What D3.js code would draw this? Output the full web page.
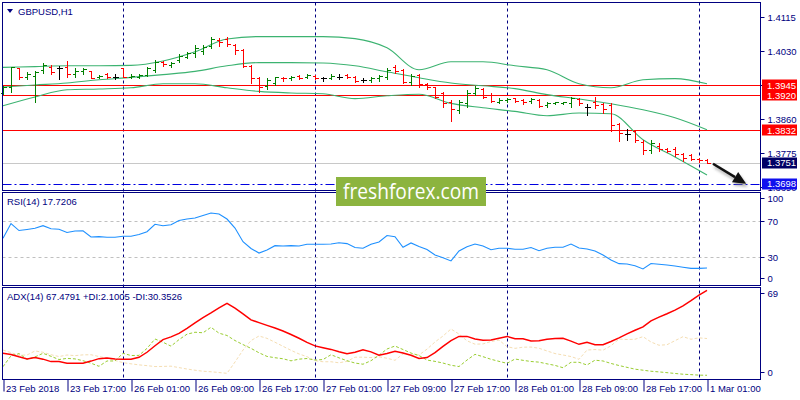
<!DOCTYPE html>
<html>
<head>
<meta charset="utf-8">
<script src="https://cdnjs.cloudflare.com/ajax/libs/d3/7.8.5/d3.min.js"></script>
<style>
  body { margin: 0; background: #fff; }
  svg { display: block; }
  text { font-family: "Liberation Sans", Arial, sans-serif; }
</style>
</head>
<body>
<svg id="chart" width="800" height="400"></svg>
<script>
// GBPUSD H1, 23 Feb 2018 09:00 .. 1 Mar 01:00 (89 bars)
const opens = [1.3925,1.3941,1.3987,1.3964,1.3968,1.3983,1.3989,1.3987,1.3989,1.3972,
  1.3980,1.3980,1.3964,1.3972,1.3966,1.3987,1.3966,1.3966,1.3970,1.3983,
  1.4003,1.3995,1.4008,1.4016,1.4024,1.4030,1.4043,1.4058,1.4060,1.4045,
  1.4033,1.3993,1.3963,1.3943,1.3949,1.3963,1.3962,1.3967,1.3964,1.3967,
  1.3962,1.3963,1.3966,1.3970,1.3966,1.3957,1.3957,1.3962,1.3966,1.3989,
  1.3983,1.3952,1.3970,1.3948,1.3939,1.3926,1.3903,1.3883,1.3899,1.3924,
  1.3934,1.3920,1.3903,1.3908,1.3912,1.3908,1.3905,1.3908,1.3895,1.3901,
  1.3900,1.3901,1.3909,1.3891,1.3903,1.3897,1.3895,1.3848,1.3823,1.3831,
  1.3803,1.3783,1.3793,1.3784,1.3784,1.3773,1.3770,1.3759,1.3758];
const highs = [1.3943,1.3991,1.3988,1.3978,1.3981,1.3999,1.3995,1.3993,1.4006,1.3987,
  1.3987,1.3981,1.3970,1.3976,1.3972,1.3988,1.3972,1.3973,1.3989,1.4008,
  1.4005,1.4003,1.4022,1.4028,1.4045,1.4045,1.4066,1.4062,1.4066,1.4047,
  1.4034,1.3995,1.3966,1.3962,1.3966,1.3966,1.3968,1.3970,1.3973,1.3970,
  1.3966,1.3973,1.3973,1.3972,1.3968,1.3962,1.3966,1.3970,1.3987,1.3995,
  1.3985,1.3973,1.3973,1.3951,1.3941,1.3928,1.3908,1.3908,1.3933,1.3943,
  1.3937,1.3924,1.3912,1.3912,1.3913,1.3910,1.3913,1.3910,1.3903,1.3903,
  1.3903,1.3916,1.3912,1.3898,1.3914,1.3899,1.3899,1.3849,1.3834,1.3833,
  1.3808,1.3808,1.3801,1.3788,1.3789,1.3774,1.3773,1.3762,1.3759];
const lows = [1.3923,1.3928,1.3960,1.3960,1.3903,1.3974,1.3972,1.3960,1.3966,1.3966,
  1.3973,1.3962,1.3962,1.3962,1.3960,1.3965,1.3962,1.3962,1.3968,1.3978,
  1.3993,1.3991,1.4003,1.4012,1.4016,1.4022,1.4038,1.4043,1.4043,1.4022,
  1.3991,1.3949,1.3928,1.3935,1.3945,1.3956,1.3957,1.3959,1.3962,1.3960,
  1.3956,1.3959,1.3960,1.3962,1.3953,1.3952,1.3953,1.3955,1.3959,1.3974,
  1.3949,1.3945,1.3941,1.3934,1.3912,1.3891,1.3856,1.3874,1.3891,1.3920,
  1.3912,1.3902,1.3901,1.3903,1.3902,1.3897,1.3901,1.3889,1.3889,1.3898,
  1.3898,1.3889,1.3895,1.3870,1.3887,1.3874,1.3831,1.3806,1.3808,1.3803,
  1.3773,1.3774,1.3781,1.3777,1.3768,1.3756,1.3758,1.3753,1.3751];
const closes = [1.3940,1.3989,1.3964,1.3972,1.3978,1.3995,1.3978,1.3987,1.3972,1.3980,
  1.3984,1.3963,1.3968,1.3966,1.3966,1.3966,1.3968,1.3970,1.3987,1.4003,
  1.3997,1.3999,1.4018,1.4024,1.4037,1.4041,1.4060,1.4052,1.4047,1.4033,
  1.3993,1.3963,1.3941,1.3958,1.3964,1.3962,1.3964,1.3963,1.3970,1.3963,
  1.3962,1.3968,1.3966,1.3966,1.3955,1.3957,1.3963,1.3967,1.3983,1.3980,
  1.3952,1.3967,1.3948,1.3939,1.3916,1.3899,1.3884,1.3903,1.3926,1.3937,
  1.3916,1.3906,1.3908,1.3910,1.3906,1.3903,1.3910,1.3893,1.3901,1.3902,
  1.3902,1.3912,1.3899,1.3891,1.3895,1.3884,1.3845,1.3824,1.3823,1.3808,
  1.3783,1.3799,1.3784,1.3781,1.3773,1.3762,1.3759,1.3758,1.3751];

// Bollinger bands read every 4th bar
const bbIndex = [0,4,8,12,16,20,24,28,32,36,40,44,48,52,56,60,64,68,72,76,80,84,88];
const bbUpper = [1.3989,1.3991,1.3993,1.3993,1.3994,1.4005,1.4028,1.4060,1.4066,1.4066,1.4066,1.4061,
  1.4038,1.3983,1.4003,1.4003,1.3993,1.3983,1.3948,1.3938,1.3958,1.3961,1.3948];
const bbMiddle = [1.3940,1.3945,1.3950,1.3958,1.3964,1.3971,1.3979,1.3993,1.4001,1.4001,1.4000,1.3993,
  1.3978,1.3963,1.3950,1.3943,1.3936,1.3921,1.3910,1.3898,1.3883,1.3863,1.3833];
const bbLower = [1.3893,1.3915,1.3933,1.3935,1.3938,1.3948,1.3948,1.3938,1.3929,1.3925,1.3923,1.3911,
  1.3918,1.3922,1.3899,1.3888,1.3879,1.3868,1.3875,1.3873,1.3808,1.3765,1.3720];

const rsi = [50.8,67.2,59.4,60.6,61.9,64.8,61.3,60.8,57.2,58.9,
  59.2,52.2,52.6,52.0,51.9,53.0,53.0,54.9,58.1,66.3,
  64.8,65.9,70.6,72.2,73.3,76.1,78.9,77.8,72.2,62.2,
  47.0,39.4,34.4,37.8,42.6,42.2,42.6,42.2,44.1,44.1,
  44.1,44.4,45.9,44.9,40.6,39.7,44.2,46.7,53.9,52.6,
  40.8,45.6,41.7,38.3,32.2,29.2,25.6,36.7,41.4,44.4,
  42.2,38.0,39.7,39.7,38.6,38.6,40.6,37.0,39.7,40.8,
  40.8,44.4,40.0,38.9,36.7,32.2,26.7,22.6,22.2,20.3,
  16.7,22.8,22.0,21.1,20.0,18.7,17.4,17.4,17.72];

const adx = [19.1,18.1,16.3,14.7,15.7,14.5,12.6,12.6,11.4,11.4,
  11.4,13.0,14.9,15.3,14.6,14.5,14.5,15.9,19.8,24.8,
  29.5,31.6,34.3,38.2,42.4,46.4,50.1,54.0,57.4,53.7,
  49.4,44.7,42.6,40.5,38.5,36.2,33.5,30.6,27.4,24.7,
  23.3,22.0,20.2,18.6,19.8,21.7,20.1,17.6,18.9,20.5,
  19.3,17.5,15.0,15.7,19.5,24.3,28.8,32.0,32.0,30.0,
  29.0,29.3,30.6,32.0,30.2,30.2,28.5,28.7,29.8,30.3,
  30.5,28.4,25.9,27.4,25.6,25.6,28.1,30.9,33.9,36.7,
  39.3,44.0,46.8,49.4,52.2,55.5,59.5,63.7,67.48];
const plusDI = [8.7,17.1,18.8,14.4,16.2,19.0,16.7,14.2,15.1,14.7,
  13.3,11.4,9.0,13.1,13.1,19.0,17.3,17.4,22.8,30.0,
  27.5,24.5,29.5,33.7,35.2,34.8,39.0,34.5,32.7,28.8,
  25.7,22.8,19.4,16.6,15.6,14.8,13.2,14.5,15.0,13.8,
  14.2,17.9,15.5,13.3,11.5,10.6,13.3,17.5,22.3,24.6,
  21.9,19.2,17.3,13.8,12.8,11.5,9.8,8.8,13.8,18.2,
  16.4,14.4,12.8,11.3,14.6,13.6,12.7,12.2,10.9,9.7,
  7.9,12.1,12.1,10.0,13.7,13.1,11.2,9.6,8.2,6.8,
  6.0,5.2,4.7,4.1,3.5,2.9,2.6,2.2,2.10];
const minusDI = [21.5,19.5,17.5,17.7,20.8,19.8,17.9,16.5,17.7,17.2,
  17.8,17.9,16.5,15.2,13.5,11.8,10.9,10.1,9.5,8.8,
  8.9,9.1,8.0,6.9,6.0,5.2,4.8,4.2,3.6,12.3,
  21.5,28.8,32.3,30.5,27.5,24.4,21.3,18.5,16.4,13.3,
  12.5,12.5,11.7,12.8,16.0,16.0,15.7,16.3,15.2,13.6,
  18.6,17.7,17.7,22.2,27.7,32.3,37.7,33.8,28.6,26.0,
  26.2,28.1,29.2,24.1,22.8,23.7,23.8,22.9,20.8,18.8,
  17.7,16.5,14.4,21.5,21.9,21.4,24.8,30.0,29.6,29.8,
  31.8,27.7,25.2,25.6,28.7,31.8,29.8,30.9,30.35];

const timeLabels = ['23 Feb 2018','23 Feb 17:00','26 Feb 01:00','26 Feb 09:00','26 Feb 17:00',
  '27 Feb 01:00','27 Feb 09:00','27 Feb 17:00','28 Feb 01:00','28 Feb 09:00','28 Feb 17:00','1 Mar 01:00'];
const timeLabelIdx = [0,8,16,24,32,40,48,56,64,72,80,88];
const dayStarts = [15,39,63,87];

const priceTicks = [1.4115,1.4030,1.3945,1.3860,1.3775,1.3690];
const resistLevels = [1.3945,1.3920,1.3832];
const bidPrice = 1.3751;
const targetPrice = 1.3698;
const rsiTicks = [100,70,30,0];
const rsiLevels = [70,30];
const adxTicks = [69,0];
const arrowFrom = [88.75,1.3748];
const arrowTo = [92.9,1.3698];

// ---------------------------------------------------------------
const NAVY = '#000080';
const svg = d3.select('#chart');

const frame = {left: 2.5, right: 760.5};
const panes = {
  main: {top: 2.5, bottom: 190.5},
  rsi: {top: 192.5, bottom: 285.5},
  adx: {top: 287.5, bottom: 379.5}
};

const x = d3.scaleLinear().domain([0, 88]).range([3, 707]);
const yP = d3.scaleLinear().domain([1.3690, 1.4115]).range([187, 17]);
const yR = d3.scaleLinear().domain([0, 100]).range([284, 194]);
const yA = d3.scaleLinear().domain([0, 69]).range([378, 288.3]);

const px = v => Math.round(v) + 0.5;

// vertical day separators
svg.append('g').selectAll('line')
  .data(dayStarts)
  .enter().append('line')
  .attr('x1', d => px(x(d))).attr('x2', d => px(x(d)))
  .attr('y1', panes.main.top).attr('y2', panes.adx.bottom)
  .attr('stroke', NAVY)
  .attr('stroke-dasharray', '3,3');

// ---- main pane ----
const main = svg.append('g');

// bid line and levels
main.append('line')
  .attr('x1', frame.left).attr('x2', frame.right)
  .attr('y1', px(yP(bidPrice))).attr('y2', px(yP(bidPrice)))
  .attr('stroke', '#c8c8c8');

main.append('line')
  .attr('x1', frame.left).attr('x2', frame.right)
  .attr('y1', px(yP(targetPrice))).attr('y2', px(yP(targetPrice)))
  .attr('stroke', '#0000e0')
  .attr('stroke-dasharray', '9,3,2,3');

main.selectAll('.lvl')
  .data(resistLevels)
  .enter().append('line')
  .attr('class', 'lvl')
  .attr('x1', frame.left).attr('x2', frame.right)
  .attr('y1', d => px(yP(d))).attr('y2', d => px(yP(d)))
  .attr('stroke', '#ff0000')
  .attr('stroke-width', 1.2);

// Bollinger bands
const bbLine = d3.line()
  .x((d, i) => x(bbIndex[i]))
  .y(d => yP(d))
  .curve(d3.curveMonotoneX);

[bbUpper, bbMiddle, bbLower].forEach(band => {
  main.append('path')
    .attr('d', bbLine(band))
    .attr('fill', 'none')
    .attr('stroke', '#3cb371')
    .attr('stroke-width', 1.1);
});

// OHLC bars
const bars = main.append('g').attr('shape-rendering', 'crispEdges');
opens.forEach((o, i) => {
  const c = closes[i];
  const col = c > o ? '#008000' : (c < o ? '#ff0000' : '#000000');
  const xi = px(x(i));
  const g = bars.append('g').attr('stroke', col);
  g.append('line').attr('x1', xi).attr('x2', xi)
    .attr('y1', Math.round(yP(highs[i]))).attr('y2', Math.round(yP(lows[i])) + 1);
  g.append('line').attr('x1', xi - 3).attr('x2', xi)
    .attr('y1', px(yP(o))).attr('y2', px(yP(o)));
  g.append('line').attr('x1', xi).attr('x2', xi + 3)
    .attr('y1', px(yP(c))).attr('y2', px(yP(c)));
});

// ---- RSI pane ----
const rsiG = svg.append('g');
rsiG.selectAll('.rl')
  .data(rsiLevels)
  .enter().append('line')
  .attr('x1', frame.left).attr('x2', frame.right)
  .attr('y1', d => px(yR(d))).attr('y2', d => px(yR(d)))
  .attr('stroke', '#c0c0c0')
  .attr('stroke-dasharray', '3,3');

rsiG.append('path')
  .attr('d', d3.line().x((d, i) => x(i)).y(d => yR(d))(rsi))
  .attr('fill', 'none')
  .attr('stroke', '#1e90ff')
  .attr('stroke-width', 1.1);

// ---- ADX pane ----
const adxG = svg.append('g');
const adxLine = d3.line().x((d, i) => x(i)).y(d => yA(d));
adxG.append('path')
  .attr('d', adxLine(minusDI))
  .attr('fill', 'none')
  .attr('stroke', '#f5deb3')
  .attr('stroke-dasharray', '3,2');
adxG.append('path')
  .attr('d', adxLine(plusDI))
  .attr('fill', 'none')
  .attr('stroke', '#9acd32')
  .attr('stroke-dasharray', '3,2');
adxG.append('path')
  .attr('d', adxLine(adx))
  .attr('fill', 'none')
  .attr('stroke', '#ff0000')
  .attr('stroke-width', 1.5);

// ---- frames ----
Object.values(panes).forEach(p => {
  svg.append('rect')
    .attr('x', frame.left).attr('y', p.top)
    .attr('width', frame.right - frame.left)
    .attr('height', p.bottom - p.top)
    .attr('fill', 'none')
    .attr('stroke', NAVY);
});

// ---- axes ----
function styleAxis(g) {
  g.select('.domain').remove();
  g.selectAll('.tick line').attr('stroke', NAVY);
  g.selectAll('.tick text')
    .attr('fill', NAVY)
    .style('font-size', '9.5px')
    .style('font-family', '"Liberation Sans", Arial, sans-serif');
}

svg.append('g')
  .attr('transform', `translate(${frame.right},0)`)
  .call(d3.axisRight(yP).tickValues(priceTicks).tickSize(4).tickFormat(d3.format('.4f')))
  .call(styleAxis);

function clampTicks(g, pane) {
  g.selectAll('.tick').attr('transform', function(d) {
    const y = +this.getAttribute('transform').match(/,([\d.\-]+)/)[1];
    return `translate(0,${Math.max(pane.top + 6, Math.min(pane.bottom - 7, y))})`;
  });
}

svg.append('g')
  .attr('transform', `translate(${frame.right},0)`)
  .call(d3.axisRight(yR).tickValues(rsiTicks).tickSize(4))
  .call(styleAxis)
  .call(g => clampTicks(g, panes.rsi));

svg.append('g')
  .attr('transform', `translate(${frame.right},0)`)
  .call(d3.axisRight(yA).tickValues(adxTicks).tickSize(4))
  .call(styleAxis)
  .call(g => clampTicks(g, panes.adx));

const xAxis = svg.append('g')
  .attr('transform', `translate(0,${panes.adx.bottom})`)
  .call(d3.axisBottom(x).tickValues(timeLabelIdx).tickSize(12)
    .tickFormat(d => timeLabels[timeLabelIdx.indexOf(d)]))
  .call(styleAxis);
xAxis.selectAll('.tick line').attr('transform', 'translate(0.5,0)');
xAxis.selectAll('.tick text')
  .attr('text-anchor', 'start')
  .attr('x', 2.5).attr('y', 12).attr('dy', 0);

// ---- price labels on the axis ----
const boxes = [
  {v: resistLevels[0], fill: '#ff0000'},
  {v: resistLevels[1], fill: '#ff0000'},
  {v: resistLevels[2], fill: '#ff0000'},
  {v: bidPrice, fill: '#000066'},
  {v: targetPrice, fill: '#1010ee'}
];
const bg = svg.append('g');
boxes.forEach(b => {
  const y = yP(b.v);
  bg.append('rect')
    .attr('x', 762).attr('y', Math.round(y) - 5.5)
    .attr('width', 35).attr('height', 11)
    .attr('fill', b.fill);
  bg.append('text')
    .attr('x', 767).attr('y', y + 3.5)
    .attr('fill', '#fff')
    .style('font-size', '9.5px')
    .text(d3.format('.4f')(b.v));
});

// ---- titles ----
svg.append('path')
  .attr('d', 'M7,9 L13,9 L10,13 Z')
  .attr('fill', NAVY);
svg.append('text').attr('x', 18).attr('y', 15)
  .attr('fill', NAVY).style('font-size', '9.5px').text('GBPUSD,H1');
svg.append('text').attr('x', 7).attr('y', 205)
  .attr('fill', NAVY).style('font-size', '9.5px').text('RSI(14) 17.7206');
svg.append('text').attr('x', 7).attr('y', 300)
  .attr('fill', NAVY).style('font-size', '9.5px')
  .text('ADX(14) 67.4791 +DI:2.1005 -DI:30.3526');

// ---- forecast arrow ----
const defs = svg.append('defs');
const f = defs.append('filter').attr('id', 'shadow')
  .attr('x', '-50%').attr('y', '-50%').attr('width', '200%').attr('height', '200%');
f.append('feGaussianBlur').attr('stdDeviation', 1.5);

const ax0 = x(arrowFrom[0]), ay0 = yP(arrowFrom[1]);
const ax1 = x(arrowTo[0]), ay1 = yP(arrowTo[1]);
const ang = Math.atan2(ay1 - ay0, ax1 - ax0);
const hl = 13, hw = 6;
const bx = ax1 - hl * Math.cos(ang), by = ay1 - hl * Math.sin(ang);
const head = [
  [ax1, ay1],
  [bx + hw * Math.sin(ang), by - hw * Math.cos(ang)],
  [bx - hw * Math.sin(ang), by + hw * Math.cos(ang)]
];
function drawArrow(g, col, dx, dy) {
  g.append('line')
    .attr('x1', ax0 + dx).attr('y1', ay0 + dy)
    .attr('x2', bx + dx).attr('y2', by + dy)
    .attr('stroke', col).attr('stroke-width', 2.5);
  g.append('path')
    .attr('d', 'M' + head.map(p => [p[0] + dx, p[1] + dy].join(',')).join('L') + 'Z')
    .attr('fill', col);
}
drawArrow(svg.append('g').attr('filter', 'url(#shadow)').attr('opacity', 0.6), '#777', 1.5, 3);
drawArrow(svg.append('g'), '#111', 0, 0);

// ---- watermark ----
const wm = svg.append('g');
wm.append('rect')
  .attr('x', 336).attr('y', 177)
  .attr('width', 150).attr('height', 29)
  .attr('fill', '#8cb43f');
wm.append('text')
  .attr('x', 343).attr('y', 199)
  .attr('fill', '#fff')
  .attr('textLength', 136)
  .attr('lengthAdjust', 'spacingAndGlyphs')
  .style('font-family', '"Open Sans", "Noto Sans", sans-serif')
  .style('font-size', '21px')
  .text('freshforex.com');
</script>
</body>
</html>
